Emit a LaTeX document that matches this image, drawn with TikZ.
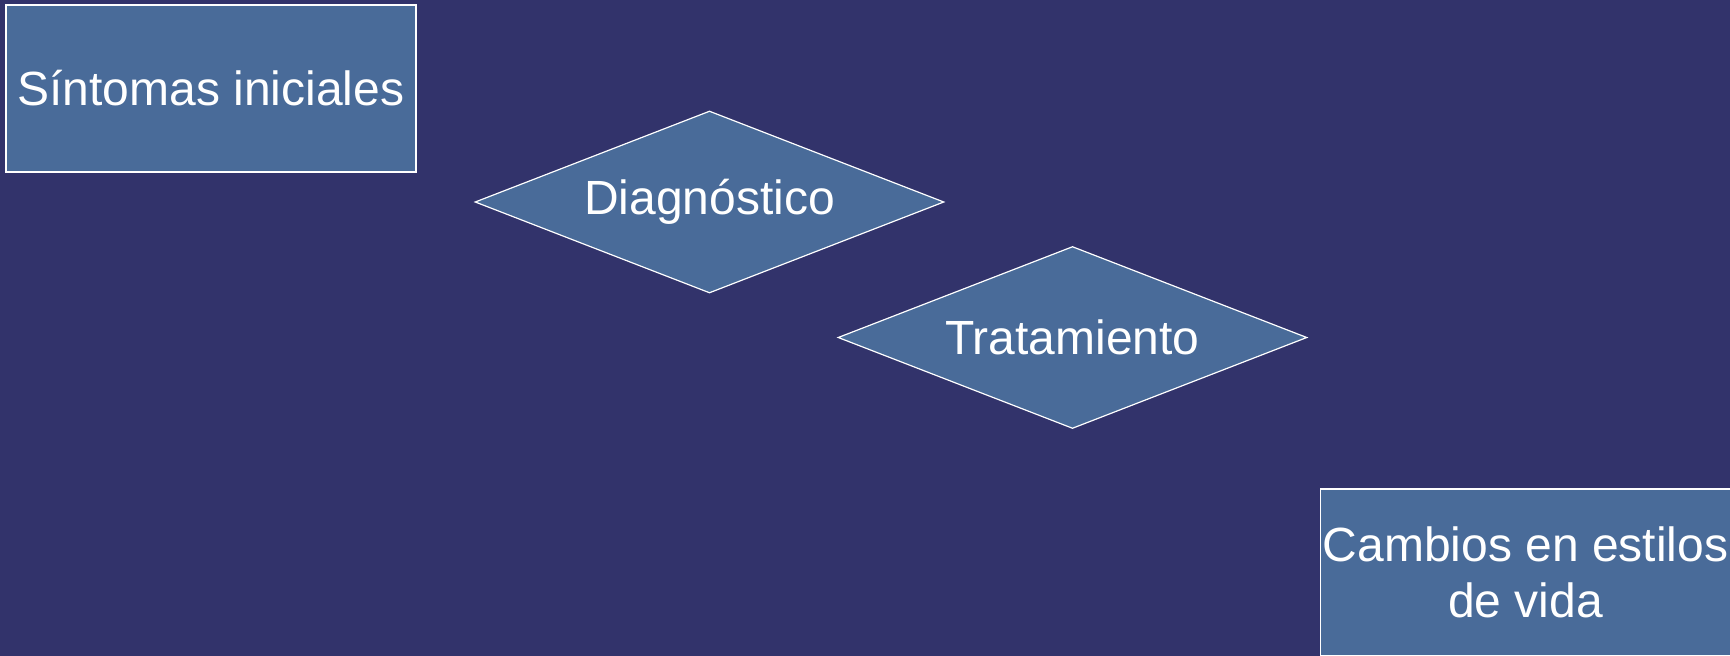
\documentclass[tikz,border=0pt]{standalone}
\usepackage{fontspec}
\setmainfont{Liberation Sans}
\usepackage{tikz}
\usetikzlibrary{shapes,positioning}

\definecolor{bgnavy}{RGB}{50,51,107}
\definecolor{boxblue}{RGB}{73,107,153}

\begin{document}
\begin{tikzpicture}[x=1pt,y=-1pt,
    stagebox/.style={draw=white, line width=1.2pt, fill=boxblue, text=white,
        minimum width=410pt, minimum height=167pt, inner sep=0pt, align=center,
        font=\fontsize{48}{56}\selectfont},
    decision/.style={diamond, aspect=2.58, draw=white, line width=1.2pt, fill=boxblue, text=white,
        minimum width=469pt, minimum height=182pt, inner sep=0pt,
        font=\fontsize{48}{56}\selectfont}]
    % Background
    \useasboundingbox (0,0) rectangle (1730,656);
    \fill[bgnavy] (0,0) rectangle (1730,656);
    \clip (0,0) rectangle (1730,656);

    % Steps
    \node[stagebox] (sintomas) at (211,88.5) {Síntomas iniciales};
    \node[decision] (diagnostico) at (709.5,202) {Diagnóstico};
    \node[decision] (tratamiento) at (1072.5,337.5) {Tratamiento};
    \node[stagebox] (cambios) at (1525.5,572.5) {Cambios en estilos\\de vida};
\end{tikzpicture}
\end{document}
